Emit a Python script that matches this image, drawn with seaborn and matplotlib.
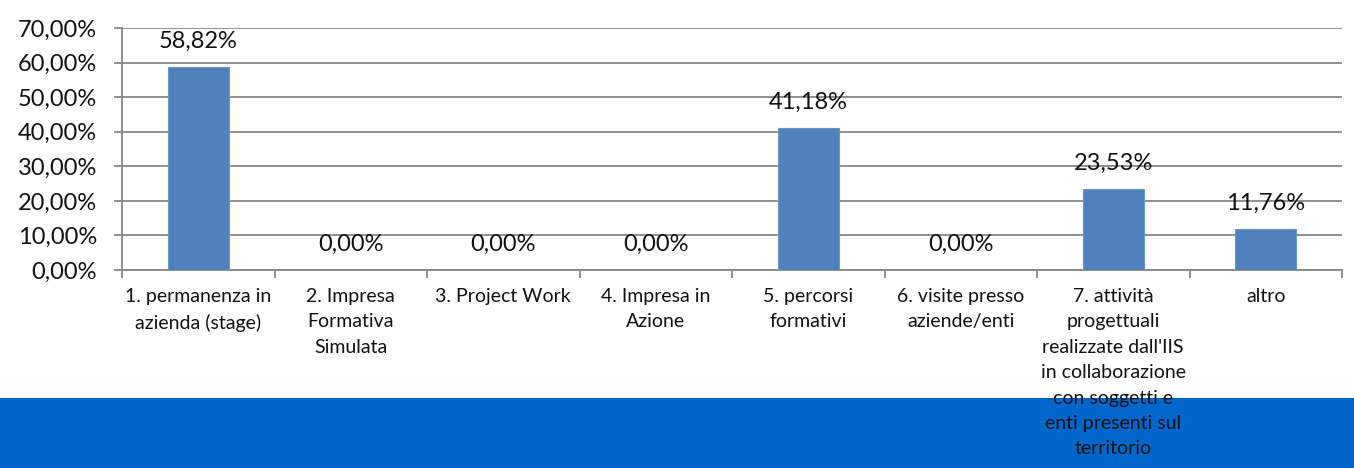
import matplotlib
matplotlib.use("Agg")
import matplotlib.pyplot as plt
import matplotlib.patches as mpatches
from matplotlib.ticker import FuncFormatter, FixedLocator
import seaborn as sns
import pandas as pd

categories = [
    "1. permanenza in\nazienda (stage)",
    "2. Impresa\nFormativa\nSimulata",
    "3. Project Work",
    "4. Impresa in\nAzione",
    "5. percorsi\nformativi",
    "6. visite presso\naziende/enti",
    "7. attività\nprogettuali\nrealizzate dall'IIS\nin collaborazione\ncon soggetti e\nenti presenti sul\nterritorio",
    "altro",
]
percentages = [58.82, 0.00, 0.00, 0.00, 41.18, 0.00, 23.53, 11.76]
y_ticks = [0, 10, 20, 30, 40, 50, 60, 70]

sns.set_theme(style="white")
plt.rcParams["font.family"] = ["Lato", "DejaVu Sans"]

df = pd.DataFrame({"categoria": categories, "valore": percentages})

fig = plt.figure(figsize=(13.54, 4.68), dpi=100)
fig.patch.set_facecolor("white")

# blue footer band across the bottom of the figure, kept behind the axes
fig.patches.append(mpatches.Rectangle((0, 0), 1, 70 / 468, transform=fig.transFigure,
                                      facecolor="#0066CC", edgecolor="none", zorder=-5))

ax = fig.add_axes([122 / 1354, 1 - 270 / 468, (1342 - 122) / 1354, (270 - 28) / 468])
ax.set_zorder(2)
ax.set_facecolor("white")

sns.barplot(data=df, x="categoria", y="valore", color="#4F81BD", width=0.4,
            edgecolor="#6B96C9", linewidth=0.8, saturation=1, ax=ax, zorder=3)

ax.set_ylim(0, 70)
ax.set_xlim(-0.5, len(categories) - 0.5)
ax.yaxis.set_major_locator(FixedLocator(y_ticks))
ax.yaxis.set_major_formatter(FuncFormatter(lambda v, _: f"{v:.2f}%".replace(".", ",")))
ax.grid(axis="y", color="#878787", linewidth=1.3, zorder=0)
ax.set_axisbelow(True)

for side in ["top", "right"]:
    ax.spines[side].set_visible(False)
for side in ["left", "bottom"]:
    ax.spines[side].set_color("#878787")
    ax.spines[side].set_linewidth(1.3)

ax.set_xlabel("")
ax.set_ylabel("")
ax.tick_params(axis="y", which="major", length=6, width=1.3, color="#878787",
               pad=12, labelsize=17, labelcolor="#111111", left=True)
ax.tick_params(axis="x", which="major", length=0, pad=13, labelsize=14, labelcolor="#111111")
ax.set_xticks(range(len(categories)))
ax.set_xticklabels(categories, linespacing=1.6)
ax.xaxis.set_minor_locator(FixedLocator([i - 0.5 for i in range(len(categories) + 1)]))
ax.tick_params(axis="x", which="minor", length=6, width=1.3, color="#878787", bottom=True)

for i, v in enumerate(percentages):
    ax.annotate(f"{v:.2f}%".replace(".", ","), xy=(i, v), xytext=(0, 11),
                textcoords="offset points", ha="center", va="bottom",
                fontsize=17, color="#111111", zorder=5)

fig.savefig("out.png", dpi=100, facecolor="white")
